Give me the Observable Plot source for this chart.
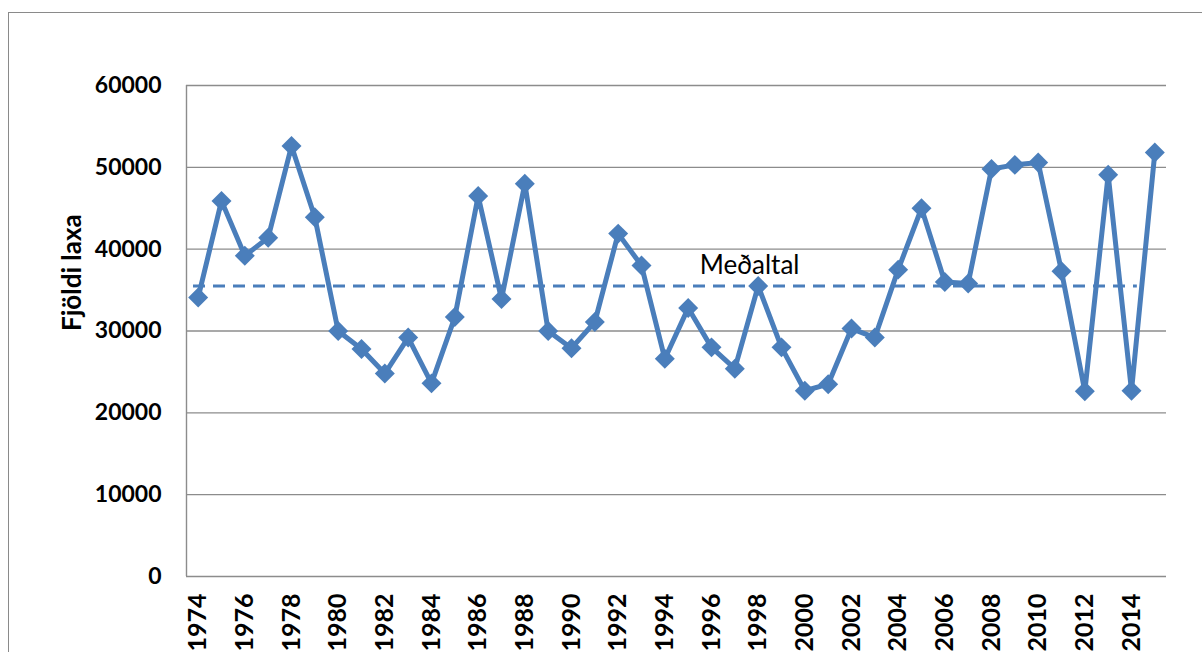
<!DOCTYPE html>
<html>
<head>
<meta charset="utf-8">
<script src="https://cdn.jsdelivr.net/npm/d3@7"></script>
<script src="https://cdn.jsdelivr.net/npm/@observablehq/plot@0.6"></script>
<style>
  html, body { margin: 0; padding: 0; background: #fff; overflow: hidden; width: 1202px; height: 652px; }
  #frame { position: absolute; left: 8px; top: 12px; width: 2000px; height: 2000px;
           border-left: 1.5px solid #8a8a8a; border-top: 1.5px solid #8a8a8a; pointer-events: none; }
  #chart { position: absolute; left: 0; top: 0; }
</style>
</head>
<body>
<div id="frame"></div>
<div id="chart"></div>
<script>
const years = d3.range(1974, 2016);
const catch_ = [
  34100, 45900, 39200, 41400, 52600, 43900, 30000, 27800, 24800, 29200,
  23600, 31700, 46500, 33900, 48000, 30000, 27900, 31100, 41900, 38000,
  26600, 32800, 28000, 25400, 35500, 28000, 22700, 23500, 30300, 29200,
  37500, 45000, 36000, 35800, 49800, 50300, 50600, 37300, 22650, 49100,
  22700, 51800
];
const meanValue = 35500;
const meanLabel = "Meðaltal";
const yTicks = [0, 10000, 20000, 30000, 40000, 50000, 60000];
const xTicks = d3.range(1974, 2016, 2);
const yLabel = "Fjöldi laxa";

const data = years.map((y, i) => ({year: y, value: catch_[i]}));
const blue = "#4a7ebb";

const chart = Plot.plot({
  width: 1202,
  height: 652,
  marginLeft: 186,
  marginRight: 36,
  marginTop: 85,
  marginBottom: 76,
  x: {domain: [1973.5, 2015.5], axis: null},
  y: {domain: [0, 60000], axis: null},
  style: {fontFamily: "Lato, 'Open Sans', sans-serif", background: "transparent", color: "#000", overflow: "visible"},
  marks: [
    Plot.gridY(yTicks, {stroke: "#8c8c8c", strokeOpacity: 1, strokeWidth: 1.4}),
    Plot.ruleX([1973.5], {y1: 0, y2: 60000, stroke: "#8c8c8c", strokeWidth: 1.4}),
    Plot.text(yTicks, {y: d => d, text: d => String(d), frameAnchor: "left", textAnchor: "end", dx: -25,
      fontSize: 23, fontWeight: "bold", fill: "#000"}),
    Plot.text(xTicks, {x: d => d, text: d => String(d), frameAnchor: "bottom", rotate: -90, textAnchor: "end",
      lineAnchor: "middle", dy: 17, fontSize: 25, fontWeight: "bold", fill: "#000"}),
    Plot.text([yLabel], {text: d => d, frameAnchor: "left", rotate: -90, dx: -114, lineAnchor: "middle",
      fontSize: 26, fontWeight: "bold", fill: "#000"}),
    Plot.ruleY([meanValue], {x1: 1973.8, x2: 2014.25, stroke: blue, strokeWidth: 3.2, strokeDasharray: "12,8"}),
    Plot.text([meanLabel], {x: 1995.5, y: meanValue, text: d => d, textAnchor: "start", lineAnchor: "bottom",
      dy: -12, fontSize: 26, fill: "#000"}),
    Plot.line(data, {x: "year", y: "value", stroke: blue, strokeWidth: 5, strokeLinejoin: "round"}),
    Plot.dot(data, {x: "year", y: "value", symbol: "diamond2", r: 9, fill: blue, stroke: "none"})
  ]
});
document.getElementById("chart").appendChild(chart);
</script>
</body>
</html>
